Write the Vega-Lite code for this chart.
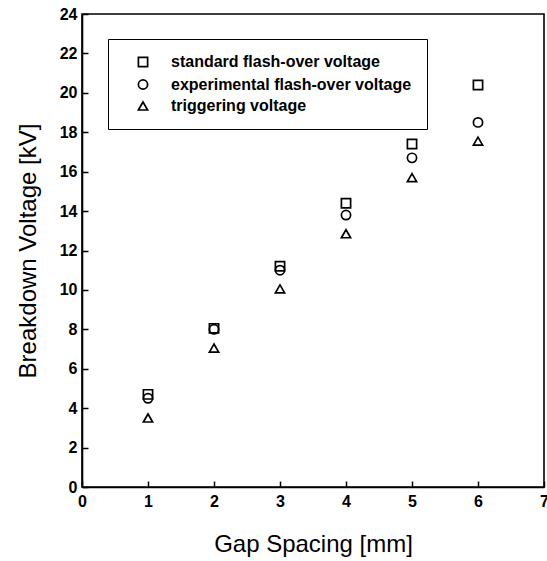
{
  "$schema": "https://vega.github.io/schema/vega-lite/v6.json",
  "width": 462,
  "height": 473,
  "autosize": "none",
  "padding": {"left": 82, "top": 14, "right": 3, "bottom": 74},
  "background": "white",
  "config": {
    "font": "Liberation Sans",
    "view": {"stroke": "black", "strokeWidth": 1.6}
  },
  "data": {
    "values": [
      {"gap": 1, "voltage": 4.7, "series": "standard flash-over voltage"},
      {"gap": 2, "voltage": 8.05, "series": "standard flash-over voltage"},
      {"gap": 3, "voltage": 11.2, "series": "standard flash-over voltage"},
      {"gap": 4, "voltage": 14.4, "series": "standard flash-over voltage"},
      {"gap": 5, "voltage": 17.4, "series": "standard flash-over voltage"},
      {"gap": 6, "voltage": 20.4, "series": "standard flash-over voltage"},
      {"gap": 1, "voltage": 4.5, "series": "experimental flash-over voltage"},
      {"gap": 2, "voltage": 8.0, "series": "experimental flash-over voltage"},
      {"gap": 3, "voltage": 11.0, "series": "experimental flash-over voltage"},
      {"gap": 4, "voltage": 13.8, "series": "experimental flash-over voltage"},
      {"gap": 5, "voltage": 16.7, "series": "experimental flash-over voltage"},
      {"gap": 6, "voltage": 18.5, "series": "experimental flash-over voltage"},
      {"gap": 1, "voltage": 3.5, "series": "triggering voltage"},
      {"gap": 2, "voltage": 7.05, "series": "triggering voltage"},
      {"gap": 3, "voltage": 10.05, "series": "triggering voltage"},
      {"gap": 4, "voltage": 12.85, "series": "triggering voltage"},
      {"gap": 5, "voltage": 15.7, "series": "triggering voltage"},
      {"gap": 6, "voltage": 17.55, "series": "triggering voltage"}
    ]
  },
  "mark": {"type": "point", "filled": false, "size": 85, "strokeWidth": 1.7, "opacity": 1},
  "encoding": {
    "x": {
      "field": "gap", "type": "quantitative",
      "scale": {"domain": [0, 7], "nice": false, "zero": false},
      "axis": {
        "title": "Gap Spacing [mm]", "values": [0, 1, 2, 3, 4, 5, 6, 7],
        "grid": false, "domainColor": "black", "domainWidth": 1.6,
        "tickColor": "black", "tickWidth": 1.5, "tickSize": -6,
        "labelFontSize": 16, "labelFontWeight": "bold", "labelColor": "black",
        "labelPadding": 12, "labelFlush": false,
        "titleFontSize": 24, "titleFontWeight": "normal", "titleColor": "black",
        "titlePadding": 23
      }
    },
    "y": {
      "field": "voltage", "type": "quantitative",
      "scale": {"domain": [0, 24], "nice": false, "zero": true},
      "axis": {
        "title": "Breakdown Voltage [kV]", "values": [0, 2, 4, 6, 8, 10, 12, 14, 16, 18, 20, 22, 24],
        "grid": false, "domainColor": "black", "domainWidth": 1.6,
        "tickColor": "black", "tickWidth": 1.5, "tickSize": -6,
        "labelFontSize": 16, "labelFontWeight": "bold", "labelColor": "black",
        "labelPadding": 11, "labelFlush": false,
        "titleFontSize": 24, "titleFontWeight": "normal", "titleColor": "black",
        "titlePadding": 19
      }
    },
    "shape": {
      "field": "series", "type": "nominal",
      "scale": {
        "domain": ["standard flash-over voltage", "experimental flash-over voltage", "triggering voltage"],
        "range": ["square", "circle", "triangle-up"]
      },
      "legend": {
        "title": null, "orient": "none", "legendX": 26, "legendY": 25,
        "strokeColor": "black", "fillColor": "white",
        "padding": 15, "symbolOffset": 12, "labelOffset": 20, "rowPadding": 4.5,
        "symbolSize": 85, "symbolStrokeWidth": 1.7, "symbolStrokeColor": "black", "symbolFillColor": "transparent",
        "labelFontSize": 16, "labelFontWeight": "bold", "labelColor": "black", "labelLimit": 400,
        "encode": {"legend": {"update": {"strokeWidth": {"value": 1.6}}}}
      }
    },
    "color": {"value": "black"}
  }
}
